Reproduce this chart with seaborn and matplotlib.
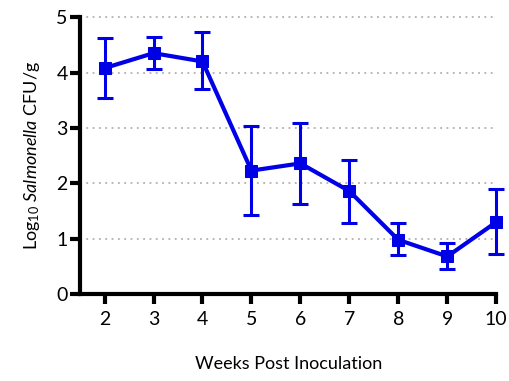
import matplotlib
matplotlib.use("Agg")
import matplotlib.pyplot as plt
import seaborn as sns
import numpy as np
import pandas as pd

weeks = [2, 3, 4, 5, 6, 7, 8, 9, 10]
means = [4.08, 4.35, 4.20, 2.23, 2.36, 1.86, 0.98, 0.68, 1.30]
upper = [4.62, 4.64, 4.73, 3.03, 3.09, 2.42, 1.28, 0.93, 1.89]
lower = [3.54, 4.06, 3.71, 1.43, 1.62, 1.28, 0.70, 0.45, 0.72]

sns.set_theme(style="white")
plt.rcParams['font.family'] = ['Lato', 'DejaVu Sans']
plt.rcParams['mathtext.fontset'] = 'custom'
plt.rcParams['mathtext.rm'] = 'Lato'
plt.rcParams['mathtext.it'] = 'Lato:italic'
plt.rcParams['mathtext.bf'] = 'Lato:bold'

df = pd.DataFrame({"week": weeks, "mean": means})
color = "#0000E6"

fig = plt.figure(figsize=(5.1, 3.81), dpi=100)
ax = fig.add_axes([0.157, 0.228, 0.816, 0.727])

for v in [1, 2, 3, 4, 5]:
    ax.axhline(v, xmax=0.995, color="#b0b0b0", linestyle=(0, (1, 2.5)), linewidth=1.3, zorder=0)

yerr = np.array([np.array(means) - np.array(lower), np.array(upper) - np.array(means)])
eb = ax.errorbar(weeks, means, yerr=yerr, fmt="none", ecolor=color, elinewidth=2.2,
                 capsize=6, capthick=2.2, zorder=2)
for art in eb.lines[1] + eb.lines[2]:
    art.set_clip_on(False)
sns.lineplot(data=df, x="week", y="mean", marker="s", color=color, linewidth=3,
             markersize=9, markeredgecolor=color, ax=ax, zorder=3)
for ln in ax.lines:
    ln.set_clip_on(False)

ax.set_xlim(1.5, 10)
ax.set_ylim(0, 5)
ax.set_xticks(weeks)
ax.set_yticks([0, 1, 2, 3, 4, 5])
ax.set_xticklabels([str(w) for w in weeks])
ax.set_yticklabels(["0", "1", "2", "3", "4", "5"])

for s in ["top", "right"]:
    ax.spines[s].set_visible(False)
for s in ["left", "bottom"]:
    ax.spines[s].set_linewidth(3)
    ax.spines[s].set_color("black")

ax.tick_params(axis="both", which="major", direction="out", length=7, width=3,
               color="black", labelsize=14, labelcolor="black", bottom=True, left=True)
ax.tick_params(axis="x", pad=5)
ax.tick_params(axis="y", pad=2)

ax.set_xlabel("Weeks Post Inoculation", fontsize=13, labelpad=20, color="black")
ax.set_ylabel(r"Log$_{10}$ $\it{Salmonella}$ CFU/g", fontsize=13, labelpad=10, color="black")

fig.savefig("out.png", dpi=100)
